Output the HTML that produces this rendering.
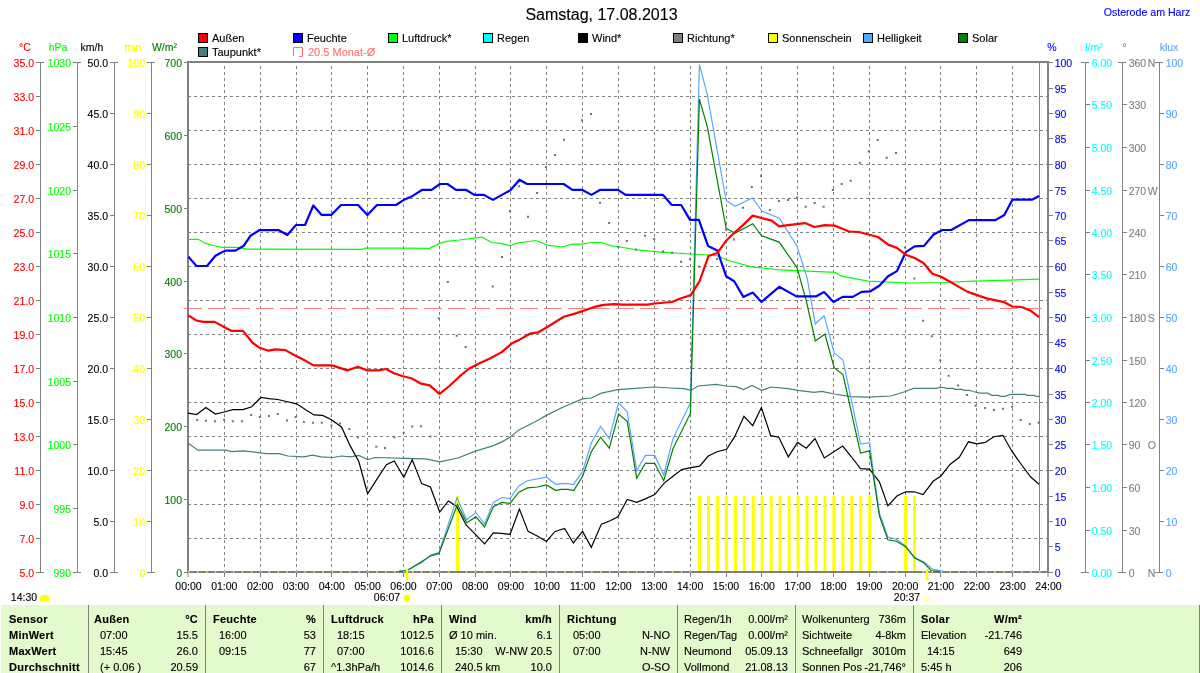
<!DOCTYPE html>
<html><head><meta charset="utf-8"><style>
html,body{margin:0;padding:0;background:#fff;}
svg,#tbl{will-change:transform;}
div{-webkit-text-stroke:0.12px #000;}
body{width:1200px;height:673px;position:relative;overflow:hidden;font-family:"Liberation Sans", sans-serif;font-size:11px;line-height:12px;color:#000;}
</style></head><body>
<svg width="1200" height="673" viewBox="0 0 1200 673" style="position:absolute;left:0;top:0" font-family='"Liberation Sans", sans-serif'><rect x="0" y="0" width="1200" height="673" fill="#fff"/><text x="601.5" y="20" fill="#000" stroke="#000" stroke-width="0.12" font-size="16" text-anchor="middle" font-weight="normal" >Samstag, 17.08.2013</text><text x="1147" y="16" fill="#0000FF" stroke="#0000FF" stroke-width="0.12" font-size="10.6" text-anchor="middle" font-weight="normal" >Osterode am Harz</text><rect x="198.5" y="33.5" width="9" height="9" fill="#FF0000" stroke="#000" stroke-width="1"/><text x="212" y="42" fill="#000" stroke="#000" stroke-width="0.12" font-size="11" text-anchor="start" font-weight="normal" >Außen</text><rect x="293.5" y="33.5" width="9" height="9" fill="#0000FF" stroke="#000" stroke-width="1"/><text x="307" y="42" fill="#000" stroke="#000" stroke-width="0.12" font-size="11" text-anchor="start" font-weight="normal" >Feuchte</text><rect x="388.5" y="33.5" width="9" height="9" fill="#00FF00" stroke="#000" stroke-width="1"/><text x="402" y="42" fill="#000" stroke="#000" stroke-width="0.12" font-size="11" text-anchor="start" font-weight="normal" >Luftdruck*</text><rect x="483.5" y="33.5" width="9" height="9" fill="#00FFFF" stroke="#000" stroke-width="1"/><text x="497" y="42" fill="#000" stroke="#000" stroke-width="0.12" font-size="11" text-anchor="start" font-weight="normal" >Regen</text><rect x="578.5" y="33.5" width="9" height="9" fill="#000000" stroke="#000" stroke-width="1"/><text x="592" y="42" fill="#000" stroke="#000" stroke-width="0.12" font-size="11" text-anchor="start" font-weight="normal" >Wind*</text><rect x="673.5" y="33.5" width="9" height="9" fill="#808080" stroke="#000" stroke-width="1"/><text x="687" y="42" fill="#000" stroke="#000" stroke-width="0.12" font-size="11" text-anchor="start" font-weight="normal" >Richtung*</text><rect x="768.5" y="33.5" width="9" height="9" fill="#FFFF00" stroke="#000" stroke-width="1"/><text x="782" y="42" fill="#000" stroke="#000" stroke-width="0.12" font-size="11" text-anchor="start" font-weight="normal" >Sonnenschein</text><rect x="863.5" y="33.5" width="9" height="9" fill="#55A8FF" stroke="#000" stroke-width="1"/><text x="877" y="42" fill="#000" stroke="#000" stroke-width="0.12" font-size="11" text-anchor="start" font-weight="normal" >Helligkeit</text><rect x="958.5" y="33.5" width="9" height="9" fill="#008000" stroke="#000" stroke-width="1"/><text x="972" y="42" fill="#000" stroke="#000" stroke-width="0.12" font-size="11" text-anchor="start" font-weight="normal" >Solar</text><rect x="198.5" y="47.5" width="9" height="9" fill="#408080" stroke="#000" stroke-width="1"/><text x="212" y="56" fill="#000" stroke="#000" stroke-width="0.12" font-size="11" text-anchor="start" font-weight="normal" >Taupunkt*</text><path d="M293.5,56 V47.5 H302.5 V56.5 H299" fill="none" stroke="#FF7070" stroke-width="1"/><text x="308" y="56" fill="#FF7070" stroke="#FF7070" stroke-width="0.12" font-size="11" text-anchor="start" font-weight="normal" >20.5 Monat-Ø</text><path d="M224.5,62 V572 M260.5,62 V572 M296.5,62 V572 M331.5,62 V572 M367.5,62 V572 M403.5,62 V572 M439.5,62 V572 M475.5,62 V572 M510.5,62 V572 M546.5,62 V572 M582.5,62 V572 M618.5,62 V572 M654.5,62 V572 M690.5,62 V572 M726.5,62 V572 M761.5,62 V572 M797.5,62 V572 M833.5,62 V572 M869.5,62 V572 M905.5,62 V572 M940.5,62 V572 M976.5,62 V572 M1012.5,62 V572" stroke="#808080" stroke-width="1" stroke-dasharray="3,3" stroke-dashoffset="2" fill="none"/><path d="M188,96.5 H1048 M188,130.5 H1048 M188,164.5 H1048 M188,198.5 H1048 M188,232.5 H1048 M188,266.5 H1048 M188,300.5 H1048 M188,334.5 H1048 M188,368.5 H1048 M188,402.5 H1048 M188,436.5 H1048 M188,470.5 H1048 M188,504.5 H1048 M188,538.5 H1048" stroke="#808080" stroke-width="1" stroke-dasharray="3,3" fill="none"/><path d="M1039.5,62 V572" stroke="#808080" stroke-width="1"/><path d="M184,308.5 H1042" stroke="#FF8080" stroke-width="1" stroke-dasharray="18,6"/><path d="M457.6,572 V497 M699.5,572 V497 M708.5,572 V497 M717.4,572 V497 M726.4,572 V497 M735.4,572 V497 M744.3,572 V497 M753.3,572 V497 M762.2,572 V497 M771.2,572 V497 M780.1,572 V497 M789.1,572 V497 M798.1,572 V497 M807.0,572 V497 M816.0,572 V497 M824.9,572 V497 M833.9,572 V497 M842.9,572 V497 M851.8,572 V497 M860.8,572 V497 M869.7,572 V497 M905.6,572 V497 M914.5,572 V497" stroke="#FFFF00" stroke-width="3" stroke-linecap="round" fill="none"/><rect x="188" y="62" width="860" height="510" fill="none" stroke="#808080" stroke-width="2"/><polyline points="187.9,443.0 198.0,450.2 225.6,450.2 231.4,451.7 243.0,450.8 254.6,452.2 266.2,453.7 279.2,453.7 287.9,456.0 303.8,456.9 312.5,455.1 321.2,456.9 332.8,457.5 341.5,456.0 350.2,456.9 358.9,455.4 367.6,459.5 374.9,457.5 405.0,458.3 426.1,458.9 439.7,461.8 458.0,458.0 475.4,451.1 492.8,445.9 501.4,442.1 510.1,437.2 518.8,429.9 536.2,421.2 546.4,415.4 563.8,406.7 582.6,398.9 591.3,398.0 601.4,393.1 618.0,389.6 632.0,388.6 654.0,387.0 670.0,388.0 684.0,388.6 691.0,390.4 698.0,386.0 716.0,384.4 726.0,386.0 736.0,386.6 743.6,389.6 752.0,385.4 761.6,390.4 771.0,387.0 788.0,388.6 798.0,390.4 814.0,392.4 822.0,391.4 834.2,394.0 850.6,396.7 868.3,397.2 891.0,396.0 900.0,393.2 905.4,391.5 913.3,388.4 936.3,388.4 940.0,387.3 944.0,387.5 946.0,388.4 953.0,388.4 955.0,389.3 962.0,389.3 964.0,390.3 969.4,390.3 973.0,391.5 979.7,393.2 987.6,393.2 991.7,395.4 998.5,395.4 1000.2,396.3 1005.0,396.3 1010.5,394.4 1025.6,394.4 1026.9,395.4 1034.0,395.4 1035.8,396.3 1039.0,396.3" fill="none" stroke="#408080" stroke-width="1.2"/><polyline points="188.3,239.3 198.4,239.3 205.1,243.2 213.0,245.5 222.2,247.3 238.5,247.3 246.7,249.1 361.5,249.3 365.7,248.2 405.0,248.2 429.7,248.4 439.5,243.4 446.6,241.4 459.3,240.0 472.0,238.3 481.9,237.1 491.8,242.5 500.3,243.4 510.1,245.6 518.6,242.8 535.6,240.5 548.3,245.3 562.4,247.0 572.3,244.2 582.2,244.2 592.0,242.5 601.9,242.5 610.4,245.6 620.0,247.0 635.2,249.7 660.5,252.2 690.8,254.0 716.0,255.5 728.7,260.5 751.4,266.8 779.2,269.9 807.0,271.1 835.0,272.4 841.4,276.2 867.9,281.2 910.8,283.0 941.1,282.5 974.0,281.2 1039.1,279.2" fill="none" stroke="#00FF00" stroke-width="1.2"/><polyline points="187.9,413.1 196.6,414.6 205.9,407.6 215.4,414.0 224.1,412.0 232.8,409.6 243.0,409.6 251.7,406.7 261.0,397.5 269.0,398.6 277.8,399.5 286.4,401.5 296.6,403.8 305.3,409.6 314.0,414.9 322.7,415.4 331.4,419.8 341.5,427.0 350.2,445.9 358.9,461.8 367.6,493.7 376.3,480.1 386.4,464.7 394.3,461.0 403.8,477.2 412.2,459.8 421.7,483.6 430.4,487.0 439.7,512.0 448.4,501.0 456.5,506.2 466.1,525.0 475.4,534.3 484.6,543.8 493.3,532.8 501.4,533.4 510.1,534.3 519.4,509.1 528.1,531.4 537.7,536.3 546.4,541.5 555.1,531.4 564.6,528.5 573.3,543.0 582.6,531.4 591.3,547.3 601.4,524.1 610.1,520.7 617.9,516.9 627.2,499.5 636.7,502.4 645.4,498.9 654.7,494.6 663.7,483.6 673.0,476.3 681.7,469.6 690.9,467.6 699.6,466.2 708.3,456.0 717.0,451.7 726.6,449.3 734.4,437.2 744.0,416.3 752.7,425.6 761.4,407.6 770.7,435.7 778.8,437.2 788.3,456.9 797.6,442.4 806.3,448.2 815.0,438.6 824.3,458.0 834.2,451.6 842.7,446.0 851.2,456.5 860.5,468.6 869.5,469.2 879.4,481.9 887.9,505.9 896.9,496.0 905.7,491.8 914.2,491.8 923.2,494.6 933.1,481.3 940.7,476.2 950.0,464.4 959.3,457.3 968.4,441.8 976.9,443.8 985.3,442.4 993.8,436.7 1002.8,435.3 1012.2,451.7 1020.6,463.5 1030.5,476.8 1039.0,484.2" fill="none" stroke="#000" stroke-width="1.2"/><polyline points="398.9,571.4 406.9,570.0 421.2,562.9 431.0,554.8 439.0,552.7 457.0,497.8 466.7,519.8 475.9,512.5 484.6,524.1 493.3,502.4 502.0,497.5 510.1,498.6 518.8,485.9 527.5,480.7 546.4,477.2 556.0,484.5 561.0,483.6 568.0,483.6 573.3,484.5 582.6,471.4 591.3,443.0 600.6,426.4 609.3,438.6 618.5,403.0 627.2,411.7 636.7,470.5 645.4,455.4 654.7,455.4 663.7,474.9 673.0,438.6 690.4,403.0 699.4,64.4 707.4,95.1 726.1,200.5 735.0,206.2 752.5,198.0 761.9,211.0 779.4,218.2 796.9,245.9 807.0,277.5 815.3,324.0 824.1,315.7 834.2,353.0 843.0,360.1 860.6,444.0 869.6,442.6 872.4,465.0 879.4,513.0 887.9,537.0 896.4,539.2 904.8,545.4 914.7,557.6 923.2,561.5 933.1,569.4 943.0,571.1" fill="none" stroke="#55A8FF" stroke-width="1.2"/><polyline points="398.9,571.4 406.9,570.9 430.0,556.3 439.0,553.4 457.4,504.4 466.7,522.7 475.9,516.9 484.6,527.0 493.3,506.7 502.0,502.4 510.1,503.3 518.8,492.2 527.5,487.9 537.7,487.0 546.4,485.0 556.0,490.5 561.0,489.3 568.0,489.3 573.7,490.5 582.6,476.3 591.3,451.7 600.6,437.2 609.3,448.2 618.5,414.0 627.2,421.2 636.7,478.3 645.4,463.3 654.7,463.3 663.7,480.7 673.0,448.8 690.4,413.4 699.4,99.1 707.4,127.2 726.1,228.2 735.0,233.3 752.7,223.7 761.5,235.8 779.2,242.1 796.9,267.4 806.1,300.0 815.3,340.9 824.9,334.1 834.2,367.7 843.0,374.5 860.5,453.1 869.5,450.8 879.4,515.8 887.9,539.8 896.4,541.2 905.7,546.8 914.7,558.1 923.2,562.4 931.7,570.9 940.0,571.5" fill="none" stroke="#008000" stroke-width="1.2"/><polyline points="188.3,256.6 196.5,266.0 207.0,266.0 215.4,255.8 223.6,251.4 225.5,250.6 235.5,250.6 243.7,245.8 250.4,235.8 254.1,233.5 259.3,230.2 278.5,230.0 287.3,235.0 296.0,225.0 305.0,225.0 313.3,205.5 321.4,214.8 331.5,214.8 341.0,205.0 358.0,205.0 367.4,215.0 377.0,205.0 396.0,205.0 404.2,199.7 411.5,196.6 422.2,189.8 431.6,189.8 440.0,184.0 447.5,184.0 456.0,189.8 465.7,189.8 474.5,194.9 483.9,194.9 493.0,199.9 501.0,195.4 510.4,190.3 519.5,179.7 527.0,184.0 563.7,184.0 572.3,189.8 581.9,189.8 591.5,194.9 600.3,189.8 618.0,189.8 625.6,194.9 663.0,194.9 671.8,205.0 681.2,205.0 690.0,219.9 698.9,219.9 708.0,245.9 717.3,250.4 726.1,276.2 734.2,281.2 743.3,296.9 752.7,292.6 761.5,302.0 779.2,286.8 796.4,296.4 815.8,296.4 824.1,292.1 833.5,302.0 842.6,296.9 852.7,296.9 861.6,291.9 870.4,291.3 879.3,285.8 888.1,276.2 896.9,271.1 905.8,252.2 914.6,246.4 924.0,245.9 933.6,234.5 942.4,230.0 951.2,230.0 968.9,220.1 995.4,220.1 1004.3,215.0 1012.4,199.7 1032.0,199.7 1039.1,196.1" fill="none" stroke="#0000FF" stroke-width="2.2" stroke-linejoin="round"/><polyline points="188.4,315.4 196.3,320.5 203.4,321.9 214.7,321.9 224.5,327.2 231.6,330.9 242.9,330.9 252.8,343.0 259.8,347.8 268.3,350.7 275.4,349.3 285.3,350.1 295.1,355.5 303.6,359.7 313.5,365.4 331.9,365.4 347.4,370.4 357.8,366.8 367.2,370.4 378.4,370.4 386.1,369.0 394.0,373.3 403.0,376.2 411.3,378.3 421.2,383.7 429.7,385.4 439.5,393.9 449.4,386.0 459.3,376.7 469.2,368.5 479.1,363.4 490.4,358.3 501.7,352.1 511.6,343.6 520.0,339.4 529.9,333.7 538.4,332.3 546.9,327.2 563.8,316.8 576.5,313.1 586.4,309.7 594.9,306.9 603.3,304.9 615.0,304.1 622.6,304.7 647.8,304.7 654.2,303.5 671.8,302.0 681.2,298.2 690.8,295.1 699.6,281.2 708.5,256.0 717.3,253.0 726.1,240.8 733.7,233.3 743.8,224.4 752.7,215.6 761.5,218.0 771.6,220.6 779.2,226.4 788.0,225.2 805.0,223.1 814.5,227.0 824.7,225.2 835.0,225.7 849.0,231.5 859.0,232.0 878.0,237.0 888.1,244.6 896.9,247.9 905.8,254.7 914.6,258.0 923.5,263.0 932.3,273.7 941.1,276.7 950.0,281.7 967.7,291.9 986.6,298.4 1004.3,302.2 1012.4,306.5 1021.5,307.0 1030.8,310.8 1039.1,317.1" fill="none" stroke="#FF0000" stroke-width="2.2" stroke-linejoin="round"/><path d="M196.2,419.1h2v2h-2zM204.9,419.7h2v2h-2zM213.9,420.2h2v2h-2zM223.1,418.8h2v2h-2zM231.8,420.2h2v2h-2zM241.1,420.2h2v2h-2zM250.1,413.9h2v2h-2zM258.8,415.9h2v2h-2zM268.0,415.0h2v2h-2zM276.8,413.0h2v2h-2zM286.0,419.4h2v2h-2zM294.7,415.9h2v2h-2zM302.8,421.1h2v2h-2zM312.1,421.7h2v2h-2zM320.8,421.7h2v2h-2zM330.4,424.6h2v2h-2zM339.1,422.6h2v2h-2zM348.3,428.1h2v2h-2zM357.0,436.2h2v2h-2zM375.3,445.7h2v2h-2zM384.0,446.9h2v2h-2zM393.3,436.2h2v2h-2zM402.8,431.8h2v2h-2zM411.2,425.4h2v2h-2zM419.9,425.2h2v2h-2zM429.4,435.6h2v2h-2zM437.9,317.3h2v2h-2zM446.8,281.0h2v2h-2zM455.7,334.8h2v2h-2zM464.7,345.9h2v2h-2zM491.8,285.6h2v2h-2zM501.0,255.9h2v2h-2zM509.0,210.0h2v2h-2zM518.2,185.2h2v2h-2zM527.0,215.8h2v2h-2zM536.1,192.0h2v2h-2zM544.9,166.0h2v2h-2zM554.1,154.0h2v2h-2zM563.0,138.8h2v2h-2zM580.9,119.3h2v2h-2zM590.0,113.0h2v2h-2zM599.0,201.8h2v2h-2zM608.1,222.0h2v2h-2zM617.3,245.9h2v2h-2zM625.8,239.9h2v2h-2zM635.0,248.5h2v2h-2zM644.0,234.8h2v2h-2zM653.2,238.1h2v2h-2zM662.0,250.6h2v2h-2zM671.1,251.8h2v2h-2zM680.0,260.8h2v2h-2zM689.1,257.9h2v2h-2zM698.2,265.7h2v2h-2zM716.1,257.9h2v2h-2zM724.9,228.6h2v2h-2zM733.1,238.4h2v2h-2zM741.9,206.8h2v2h-2zM750.8,186.0h2v2h-2zM760.0,175.0h2v2h-2zM768.9,208.9h2v2h-2zM777.9,199.9h2v2h-2zM787.0,198.9h2v2h-2zM796.0,196.4h2v2h-2zM804.7,205.7h2v2h-2zM813.7,202.0h2v2h-2zM822.6,205.7h2v2h-2zM831.8,188.9h2v2h-2zM840.7,182.9h2v2h-2zM849.7,179.7h2v2h-2zM858.8,161.8h2v2h-2zM867.8,150.6h2v2h-2zM876.7,139.0h2v2h-2zM885.7,156.8h2v2h-2zM895.0,151.9h2v2h-2zM904.0,246.6h2v2h-2zM913.4,277.6h2v2h-2zM922.1,319.7h2v2h-2zM930.8,335.2h2v2h-2zM939.3,359.2h2v2h-2zM947.7,374.8h2v2h-2zM957.1,384.6h2v2h-2zM966.1,394.0h2v2h-2zM974.6,404.7h2v2h-2zM984.1,407.0h2v2h-2zM992.9,408.9h2v2h-2zM1001.9,407.8h2v2h-2zM1011.1,405.8h2v2h-2zM1019.8,419.0h2v2h-2zM1028.8,423.0h2v2h-2zM1037.7,421.8h2v2h-2z" fill="#707070"/><path d="M188.0,571h1.5v1.5h-1.5zM197.0,571h1.5v1.5h-1.5zM205.9,571h1.5v1.5h-1.5zM214.9,571h1.5v1.5h-1.5zM223.8,571h1.5v1.5h-1.5zM232.8,571h1.5v1.5h-1.5zM241.7,571h1.5v1.5h-1.5zM250.7,571h1.5v1.5h-1.5zM259.7,571h1.5v1.5h-1.5zM268.6,571h1.5v1.5h-1.5zM277.6,571h1.5v1.5h-1.5zM286.5,571h1.5v1.5h-1.5zM295.5,571h1.5v1.5h-1.5zM304.5,571h1.5v1.5h-1.5zM313.4,571h1.5v1.5h-1.5zM322.4,571h1.5v1.5h-1.5zM331.3,571h1.5v1.5h-1.5zM340.3,571h1.5v1.5h-1.5zM349.2,571h1.5v1.5h-1.5zM358.2,571h1.5v1.5h-1.5zM367.2,571h1.5v1.5h-1.5zM376.1,571h1.5v1.5h-1.5zM385.1,571h1.5v1.5h-1.5zM394.0,571h1.5v1.5h-1.5zM403.0,571h1.5v1.5h-1.5zM412.0,571h1.5v1.5h-1.5zM420.9,571h1.5v1.5h-1.5zM429.9,571h1.5v1.5h-1.5zM438.8,571h1.5v1.5h-1.5zM447.8,571h1.5v1.5h-1.5zM465.7,571h1.5v1.5h-1.5zM474.7,571h1.5v1.5h-1.5zM483.6,571h1.5v1.5h-1.5zM492.6,571h1.5v1.5h-1.5zM501.5,571h1.5v1.5h-1.5zM510.5,571h1.5v1.5h-1.5zM519.5,571h1.5v1.5h-1.5zM528.4,571h1.5v1.5h-1.5zM537.4,571h1.5v1.5h-1.5zM546.3,571h1.5v1.5h-1.5zM555.3,571h1.5v1.5h-1.5zM564.2,571h1.5v1.5h-1.5zM573.2,571h1.5v1.5h-1.5zM582.2,571h1.5v1.5h-1.5zM591.1,571h1.5v1.5h-1.5zM600.1,571h1.5v1.5h-1.5zM609.0,571h1.5v1.5h-1.5zM618.0,571h1.5v1.5h-1.5zM627.0,571h1.5v1.5h-1.5zM635.9,571h1.5v1.5h-1.5zM644.9,571h1.5v1.5h-1.5zM653.8,571h1.5v1.5h-1.5zM662.8,571h1.5v1.5h-1.5zM671.7,571h1.5v1.5h-1.5zM680.7,571h1.5v1.5h-1.5zM689.7,571h1.5v1.5h-1.5zM877.8,571h1.5v1.5h-1.5zM886.7,571h1.5v1.5h-1.5zM895.7,571h1.5v1.5h-1.5zM922.6,571h1.5v1.5h-1.5zM931.5,571h1.5v1.5h-1.5zM940.5,571h1.5v1.5h-1.5zM949.5,571h1.5v1.5h-1.5zM958.4,571h1.5v1.5h-1.5zM967.4,571h1.5v1.5h-1.5zM976.3,571h1.5v1.5h-1.5zM985.3,571h1.5v1.5h-1.5zM994.2,571h1.5v1.5h-1.5zM1003.2,571h1.5v1.5h-1.5zM1012.2,571h1.5v1.5h-1.5zM1021.1,571h1.5v1.5h-1.5zM1030.1,571h1.5v1.5h-1.5zM1039.0,571h1.5v1.5h-1.5z" fill="#FFFF00"/><path d="M188,572 V577 M224.5,572 V577 M260.5,572 V577 M296.5,572 V577 M331.5,572 V577 M367.5,572 V577 M403.5,572 V577 M439.5,572 V577 M475.5,572 V577 M510.5,572 V577 M546.5,572 V577 M582.5,572 V577 M618.5,572 V577 M654.5,572 V577 M690.5,572 V577 M726.5,572 V577 M761.5,572 V577 M797.5,572 V577 M833.5,572 V577 M869.5,572 V577 M905.5,572 V577 M940.5,572 V577 M976.5,572 V577 M1012.5,572 V577 M1048,572 V577" stroke="#808080" stroke-width="1"/><text x="188.5" y="590" fill="#000" stroke="#000" stroke-width="0.12" font-size="10.5" text-anchor="middle" font-weight="normal" >00:00</text><text x="224.33333333333334" y="590" fill="#000" stroke="#000" stroke-width="0.12" font-size="10.5" text-anchor="middle" font-weight="normal" >01:00</text><text x="260.1666666666667" y="590" fill="#000" stroke="#000" stroke-width="0.12" font-size="10.5" text-anchor="middle" font-weight="normal" >02:00</text><text x="296.0" y="590" fill="#000" stroke="#000" stroke-width="0.12" font-size="10.5" text-anchor="middle" font-weight="normal" >03:00</text><text x="331.83333333333337" y="590" fill="#000" stroke="#000" stroke-width="0.12" font-size="10.5" text-anchor="middle" font-weight="normal" >04:00</text><text x="367.66666666666663" y="590" fill="#000" stroke="#000" stroke-width="0.12" font-size="10.5" text-anchor="middle" font-weight="normal" >05:00</text><text x="403.5" y="590" fill="#000" stroke="#000" stroke-width="0.12" font-size="10.5" text-anchor="middle" font-weight="normal" >06:00</text><text x="439.33333333333337" y="590" fill="#000" stroke="#000" stroke-width="0.12" font-size="10.5" text-anchor="middle" font-weight="normal" >07:00</text><text x="475.1666666666667" y="590" fill="#000" stroke="#000" stroke-width="0.12" font-size="10.5" text-anchor="middle" font-weight="normal" >08:00</text><text x="511.0" y="590" fill="#000" stroke="#000" stroke-width="0.12" font-size="10.5" text-anchor="middle" font-weight="normal" >09:00</text><text x="546.8333333333333" y="590" fill="#000" stroke="#000" stroke-width="0.12" font-size="10.5" text-anchor="middle" font-weight="normal" >10:00</text><text x="582.6666666666667" y="590" fill="#000" stroke="#000" stroke-width="0.12" font-size="10.5" text-anchor="middle" font-weight="normal" >11:00</text><text x="618.5" y="590" fill="#000" stroke="#000" stroke-width="0.12" font-size="10.5" text-anchor="middle" font-weight="normal" >12:00</text><text x="654.3333333333333" y="590" fill="#000" stroke="#000" stroke-width="0.12" font-size="10.5" text-anchor="middle" font-weight="normal" >13:00</text><text x="690.1666666666667" y="590" fill="#000" stroke="#000" stroke-width="0.12" font-size="10.5" text-anchor="middle" font-weight="normal" >14:00</text><text x="726.0" y="590" fill="#000" stroke="#000" stroke-width="0.12" font-size="10.5" text-anchor="middle" font-weight="normal" >15:00</text><text x="761.8333333333334" y="590" fill="#000" stroke="#000" stroke-width="0.12" font-size="10.5" text-anchor="middle" font-weight="normal" >16:00</text><text x="797.6666666666666" y="590" fill="#000" stroke="#000" stroke-width="0.12" font-size="10.5" text-anchor="middle" font-weight="normal" >17:00</text><text x="833.5" y="590" fill="#000" stroke="#000" stroke-width="0.12" font-size="10.5" text-anchor="middle" font-weight="normal" >18:00</text><text x="869.3333333333334" y="590" fill="#000" stroke="#000" stroke-width="0.12" font-size="10.5" text-anchor="middle" font-weight="normal" >19:00</text><text x="905.1666666666666" y="590" fill="#000" stroke="#000" stroke-width="0.12" font-size="10.5" text-anchor="middle" font-weight="normal" >20:00</text><text x="941.0" y="590" fill="#000" stroke="#000" stroke-width="0.12" font-size="10.5" text-anchor="middle" font-weight="normal" >21:00</text><text x="976.8333333333334" y="590" fill="#000" stroke="#000" stroke-width="0.12" font-size="10.5" text-anchor="middle" font-weight="normal" >22:00</text><text x="1012.6666666666666" y="590" fill="#000" stroke="#000" stroke-width="0.12" font-size="10.5" text-anchor="middle" font-weight="normal" >23:00</text><text x="1048.5" y="590" fill="#000" stroke="#000" stroke-width="0.12" font-size="10.5" text-anchor="middle" font-weight="normal" >24:00</text><path d="M407,569 V580.5 M927,569 V580.5" stroke="#FFFF00" stroke-width="2.5"/><text x="387" y="601" fill="#000" stroke="#000" stroke-width="0.12" font-size="10.5" text-anchor="middle" font-weight="normal" >06:07</text><circle cx="407" cy="598" r="3.2" fill="#FFFF00"/><path d="M407,592.5 V594 M407,602 V603.5 M401.5,598 H403 M411,598 H412.5 M403,594 l1,1 M411,594 l-1,1 M403,602 l1,-1 M411,602 l-1,-1" stroke="#FFFF60" stroke-width="1"/><text x="907" y="601" fill="#000" stroke="#000" stroke-width="0.12" font-size="10.5" text-anchor="middle" font-weight="normal" >20:37</text><rect x="924.5" y="595.5" width="5" height="5" rx="1" fill="none" stroke="#FFFF60" stroke-width="1"/><text x="24" y="601" fill="#000" stroke="#000" stroke-width="0.12" font-size="10.5" text-anchor="middle" font-weight="normal" >14:30</text><path d="M40,601 V598 Q40,595 43,595 H46 Q49,595 49,598 V601 Z" fill="#FFFF00"/><text x="34" y="66.5" fill="#FF0000" stroke="#FF0000" stroke-width="0.12" font-size="10.5" text-anchor="end" font-weight="normal" >35.0</text><text x="34" y="100.5" fill="#FF0000" stroke="#FF0000" stroke-width="0.12" font-size="10.5" text-anchor="end" font-weight="normal" >33.0</text><text x="34" y="134.5" fill="#FF0000" stroke="#FF0000" stroke-width="0.12" font-size="10.5" text-anchor="end" font-weight="normal" >31.0</text><text x="34" y="168.5" fill="#FF0000" stroke="#FF0000" stroke-width="0.12" font-size="10.5" text-anchor="end" font-weight="normal" >29.0</text><text x="34" y="202.5" fill="#FF0000" stroke="#FF0000" stroke-width="0.12" font-size="10.5" text-anchor="end" font-weight="normal" >27.0</text><text x="34" y="236.5" fill="#FF0000" stroke="#FF0000" stroke-width="0.12" font-size="10.5" text-anchor="end" font-weight="normal" >25.0</text><text x="34" y="270.5" fill="#FF0000" stroke="#FF0000" stroke-width="0.12" font-size="10.5" text-anchor="end" font-weight="normal" >23.0</text><text x="34" y="304.5" fill="#FF0000" stroke="#FF0000" stroke-width="0.12" font-size="10.5" text-anchor="end" font-weight="normal" >21.0</text><text x="34" y="338.5" fill="#FF0000" stroke="#FF0000" stroke-width="0.12" font-size="10.5" text-anchor="end" font-weight="normal" >19.0</text><text x="34" y="372.5" fill="#FF0000" stroke="#FF0000" stroke-width="0.12" font-size="10.5" text-anchor="end" font-weight="normal" >17.0</text><text x="34" y="406.5" fill="#FF0000" stroke="#FF0000" stroke-width="0.12" font-size="10.5" text-anchor="end" font-weight="normal" >15.0</text><text x="34" y="440.5" fill="#FF0000" stroke="#FF0000" stroke-width="0.12" font-size="10.5" text-anchor="end" font-weight="normal" >13.0</text><text x="34" y="474.5" fill="#FF0000" stroke="#FF0000" stroke-width="0.12" font-size="10.5" text-anchor="end" font-weight="normal" >11.0</text><text x="34" y="508.5" fill="#FF0000" stroke="#FF0000" stroke-width="0.12" font-size="10.5" text-anchor="end" font-weight="normal" >9.0</text><text x="34" y="542.5" fill="#FF0000" stroke="#FF0000" stroke-width="0.12" font-size="10.5" text-anchor="end" font-weight="normal" >7.0</text><text x="34" y="576.5" fill="#FF0000" stroke="#FF0000" stroke-width="0.12" font-size="10.5" text-anchor="end" font-weight="normal" >5.0</text><text x="25" y="51" fill="#FF0000" stroke="#FF0000" stroke-width="0.12" font-size="10.5" text-anchor="middle" font-weight="normal" >°C</text><text x="71" y="66.5" fill="#00FF00" stroke="#00FF00" stroke-width="0.12" font-size="10.5" text-anchor="end" font-weight="normal" >1030</text><text x="71" y="130.5" fill="#00FF00" stroke="#00FF00" stroke-width="0.12" font-size="10.5" text-anchor="end" font-weight="normal" >1025</text><text x="71" y="194.5" fill="#00FF00" stroke="#00FF00" stroke-width="0.12" font-size="10.5" text-anchor="end" font-weight="normal" >1020</text><text x="71" y="257.5" fill="#00FF00" stroke="#00FF00" stroke-width="0.12" font-size="10.5" text-anchor="end" font-weight="normal" >1015</text><text x="71" y="321.5" fill="#00FF00" stroke="#00FF00" stroke-width="0.12" font-size="10.5" text-anchor="end" font-weight="normal" >1010</text><text x="71" y="385.5" fill="#00FF00" stroke="#00FF00" stroke-width="0.12" font-size="10.5" text-anchor="end" font-weight="normal" >1005</text><text x="71" y="448.5" fill="#00FF00" stroke="#00FF00" stroke-width="0.12" font-size="10.5" text-anchor="end" font-weight="normal" >1000</text><text x="71" y="512.5" fill="#00FF00" stroke="#00FF00" stroke-width="0.12" font-size="10.5" text-anchor="end" font-weight="normal" >995</text><text x="71" y="576.5" fill="#00FF00" stroke="#00FF00" stroke-width="0.12" font-size="10.5" text-anchor="end" font-weight="normal" >990</text><text x="58" y="51" fill="#00FF00" stroke="#00FF00" stroke-width="0.12" font-size="10.5" text-anchor="middle" font-weight="normal" >hPa</text><text x="108" y="66.5" fill="#000000" stroke="#000000" stroke-width="0.12" font-size="10.5" text-anchor="end" font-weight="normal" >50.0</text><text x="108" y="117.5" fill="#000000" stroke="#000000" stroke-width="0.12" font-size="10.5" text-anchor="end" font-weight="normal" >45.0</text><text x="108" y="168.5" fill="#000000" stroke="#000000" stroke-width="0.12" font-size="10.5" text-anchor="end" font-weight="normal" >40.0</text><text x="108" y="219.5" fill="#000000" stroke="#000000" stroke-width="0.12" font-size="10.5" text-anchor="end" font-weight="normal" >35.0</text><text x="108" y="270.5" fill="#000000" stroke="#000000" stroke-width="0.12" font-size="10.5" text-anchor="end" font-weight="normal" >30.0</text><text x="108" y="321.5" fill="#000000" stroke="#000000" stroke-width="0.12" font-size="10.5" text-anchor="end" font-weight="normal" >25.0</text><text x="108" y="372.5" fill="#000000" stroke="#000000" stroke-width="0.12" font-size="10.5" text-anchor="end" font-weight="normal" >20.0</text><text x="108" y="423.5" fill="#000000" stroke="#000000" stroke-width="0.12" font-size="10.5" text-anchor="end" font-weight="normal" >15.0</text><text x="108" y="474.5" fill="#000000" stroke="#000000" stroke-width="0.12" font-size="10.5" text-anchor="end" font-weight="normal" >10.0</text><text x="108" y="525.5" fill="#000000" stroke="#000000" stroke-width="0.12" font-size="10.5" text-anchor="end" font-weight="normal" >5.0</text><text x="108" y="576.5" fill="#000000" stroke="#000000" stroke-width="0.12" font-size="10.5" text-anchor="end" font-weight="normal" >0.0</text><text x="92" y="51" fill="#000000" stroke="#000000" stroke-width="0.12" font-size="10.5" text-anchor="middle" font-weight="normal" >km/h</text><text x="145" y="66.5" fill="#FFFF00" stroke="#FFFF00" stroke-width="0.12" font-size="10.5" text-anchor="end" font-weight="normal" >100</text><text x="145" y="117.5" fill="#FFFF00" stroke="#FFFF00" stroke-width="0.12" font-size="10.5" text-anchor="end" font-weight="normal" >90</text><text x="145" y="168.5" fill="#FFFF00" stroke="#FFFF00" stroke-width="0.12" font-size="10.5" text-anchor="end" font-weight="normal" >80</text><text x="145" y="219.5" fill="#FFFF00" stroke="#FFFF00" stroke-width="0.12" font-size="10.5" text-anchor="end" font-weight="normal" >70</text><text x="145" y="270.5" fill="#FFFF00" stroke="#FFFF00" stroke-width="0.12" font-size="10.5" text-anchor="end" font-weight="normal" >60</text><text x="145" y="321.5" fill="#FFFF00" stroke="#FFFF00" stroke-width="0.12" font-size="10.5" text-anchor="end" font-weight="normal" >50</text><text x="145" y="372.5" fill="#FFFF00" stroke="#FFFF00" stroke-width="0.12" font-size="10.5" text-anchor="end" font-weight="normal" >40</text><text x="145" y="423.5" fill="#FFFF00" stroke="#FFFF00" stroke-width="0.12" font-size="10.5" text-anchor="end" font-weight="normal" >30</text><text x="145" y="474.5" fill="#FFFF00" stroke="#FFFF00" stroke-width="0.12" font-size="10.5" text-anchor="end" font-weight="normal" >20</text><text x="145" y="525.5" fill="#FFFF00" stroke="#FFFF00" stroke-width="0.12" font-size="10.5" text-anchor="end" font-weight="normal" >10</text><text x="145" y="576.5" fill="#FFFF00" stroke="#FFFF00" stroke-width="0.12" font-size="10.5" text-anchor="end" font-weight="normal" >0</text><text x="133" y="51" fill="#FFFF00" stroke="#FFFF00" stroke-width="0.12" font-size="10.5" text-anchor="middle" font-weight="normal" >min</text><text x="182" y="66.5" fill="#008000" stroke="#008000" stroke-width="0.12" font-size="10.5" text-anchor="end" font-weight="normal" >700</text><text x="182" y="139.5" fill="#008000" stroke="#008000" stroke-width="0.12" font-size="10.5" text-anchor="end" font-weight="normal" >600</text><text x="182" y="212.5" fill="#008000" stroke="#008000" stroke-width="0.12" font-size="10.5" text-anchor="end" font-weight="normal" >500</text><text x="182" y="285.5" fill="#008000" stroke="#008000" stroke-width="0.12" font-size="10.5" text-anchor="end" font-weight="normal" >400</text><text x="182" y="357.5" fill="#008000" stroke="#008000" stroke-width="0.12" font-size="10.5" text-anchor="end" font-weight="normal" >300</text><text x="182" y="430.5" fill="#008000" stroke="#008000" stroke-width="0.12" font-size="10.5" text-anchor="end" font-weight="normal" >200</text><text x="182" y="503.5" fill="#008000" stroke="#008000" stroke-width="0.12" font-size="10.5" text-anchor="end" font-weight="normal" >100</text><text x="182" y="576.5" fill="#008000" stroke="#008000" stroke-width="0.12" font-size="10.5" text-anchor="end" font-weight="normal" >0</text><text x="164.5" y="51" fill="#008000" stroke="#008000" stroke-width="0.12" font-size="10.5" text-anchor="middle" font-weight="normal" >W/m²</text><text x="1054.7" y="66.5" fill="#0000FF" stroke="#0000FF" stroke-width="0.12" font-size="10.5" text-anchor="start" font-weight="normal" >100</text><text x="1054.7" y="92.5" fill="#0000FF" stroke="#0000FF" stroke-width="0.12" font-size="10.5" text-anchor="start" font-weight="normal" >95</text><text x="1054.7" y="117.5" fill="#0000FF" stroke="#0000FF" stroke-width="0.12" font-size="10.5" text-anchor="start" font-weight="normal" >90</text><text x="1054.7" y="142.5" fill="#0000FF" stroke="#0000FF" stroke-width="0.12" font-size="10.5" text-anchor="start" font-weight="normal" >85</text><text x="1054.7" y="168.5" fill="#0000FF" stroke="#0000FF" stroke-width="0.12" font-size="10.5" text-anchor="start" font-weight="normal" >80</text><text x="1054.7" y="194.5" fill="#0000FF" stroke="#0000FF" stroke-width="0.12" font-size="10.5" text-anchor="start" font-weight="normal" >75</text><text x="1054.7" y="219.5" fill="#0000FF" stroke="#0000FF" stroke-width="0.12" font-size="10.5" text-anchor="start" font-weight="normal" >70</text><text x="1054.7" y="244.5" fill="#0000FF" stroke="#0000FF" stroke-width="0.12" font-size="10.5" text-anchor="start" font-weight="normal" >65</text><text x="1054.7" y="270.5" fill="#0000FF" stroke="#0000FF" stroke-width="0.12" font-size="10.5" text-anchor="start" font-weight="normal" >60</text><text x="1054.7" y="296.5" fill="#0000FF" stroke="#0000FF" stroke-width="0.12" font-size="10.5" text-anchor="start" font-weight="normal" >55</text><text x="1054.7" y="321.5" fill="#0000FF" stroke="#0000FF" stroke-width="0.12" font-size="10.5" text-anchor="start" font-weight="normal" >50</text><text x="1054.7" y="346.5" fill="#0000FF" stroke="#0000FF" stroke-width="0.12" font-size="10.5" text-anchor="start" font-weight="normal" >45</text><text x="1054.7" y="372.5" fill="#0000FF" stroke="#0000FF" stroke-width="0.12" font-size="10.5" text-anchor="start" font-weight="normal" >40</text><text x="1054.7" y="398.5" fill="#0000FF" stroke="#0000FF" stroke-width="0.12" font-size="10.5" text-anchor="start" font-weight="normal" >35</text><text x="1054.7" y="423.5" fill="#0000FF" stroke="#0000FF" stroke-width="0.12" font-size="10.5" text-anchor="start" font-weight="normal" >30</text><text x="1054.7" y="448.5" fill="#0000FF" stroke="#0000FF" stroke-width="0.12" font-size="10.5" text-anchor="start" font-weight="normal" >25</text><text x="1054.7" y="474.5" fill="#0000FF" stroke="#0000FF" stroke-width="0.12" font-size="10.5" text-anchor="start" font-weight="normal" >20</text><text x="1054.7" y="500.5" fill="#0000FF" stroke="#0000FF" stroke-width="0.12" font-size="10.5" text-anchor="start" font-weight="normal" >15</text><text x="1054.7" y="525.5" fill="#0000FF" stroke="#0000FF" stroke-width="0.12" font-size="10.5" text-anchor="start" font-weight="normal" >10</text><text x="1054.7" y="550.5" fill="#0000FF" stroke="#0000FF" stroke-width="0.12" font-size="10.5" text-anchor="start" font-weight="normal" >5</text><text x="1054.7" y="576.5" fill="#0000FF" stroke="#0000FF" stroke-width="0.12" font-size="10.5" text-anchor="start" font-weight="normal" >0</text><text x="1052" y="51" fill="#0000FF" stroke="#0000FF" stroke-width="0.12" font-size="10.5" text-anchor="middle" font-weight="normal" >%</text><text x="1091.7" y="66.5" fill="#00FFFF" stroke="#00FFFF" stroke-width="0.12" font-size="10.5" text-anchor="start" font-weight="normal" >6.00</text><text x="1091.7" y="108.5" fill="#00FFFF" stroke="#00FFFF" stroke-width="0.12" font-size="10.5" text-anchor="start" font-weight="normal" >5.50</text><text x="1091.7" y="151.5" fill="#00FFFF" stroke="#00FFFF" stroke-width="0.12" font-size="10.5" text-anchor="start" font-weight="normal" >5.00</text><text x="1091.7" y="194.5" fill="#00FFFF" stroke="#00FFFF" stroke-width="0.12" font-size="10.5" text-anchor="start" font-weight="normal" >4.50</text><text x="1091.7" y="236.5" fill="#00FFFF" stroke="#00FFFF" stroke-width="0.12" font-size="10.5" text-anchor="start" font-weight="normal" >4.00</text><text x="1091.7" y="278.5" fill="#00FFFF" stroke="#00FFFF" stroke-width="0.12" font-size="10.5" text-anchor="start" font-weight="normal" >3.50</text><text x="1091.7" y="321.5" fill="#00FFFF" stroke="#00FFFF" stroke-width="0.12" font-size="10.5" text-anchor="start" font-weight="normal" >3.00</text><text x="1091.7" y="364.5" fill="#00FFFF" stroke="#00FFFF" stroke-width="0.12" font-size="10.5" text-anchor="start" font-weight="normal" >2.50</text><text x="1091.7" y="406.5" fill="#00FFFF" stroke="#00FFFF" stroke-width="0.12" font-size="10.5" text-anchor="start" font-weight="normal" >2.00</text><text x="1091.7" y="448.5" fill="#00FFFF" stroke="#00FFFF" stroke-width="0.12" font-size="10.5" text-anchor="start" font-weight="normal" >1.50</text><text x="1091.7" y="491.5" fill="#00FFFF" stroke="#00FFFF" stroke-width="0.12" font-size="10.5" text-anchor="start" font-weight="normal" >1.00</text><text x="1091.7" y="534.5" fill="#00FFFF" stroke="#00FFFF" stroke-width="0.12" font-size="10.5" text-anchor="start" font-weight="normal" >0.50</text><text x="1091.7" y="576.5" fill="#00FFFF" stroke="#00FFFF" stroke-width="0.12" font-size="10.5" text-anchor="start" font-weight="normal" >0.00</text><text x="1094" y="51" fill="#00FFFF" stroke="#00FFFF" stroke-width="0.12" font-size="10.5" text-anchor="middle" font-weight="normal" >l/m²</text><text x="1128.7" y="66.5" fill="#808080" stroke="#808080" stroke-width="0.12" font-size="10.5" text-anchor="start" font-weight="normal" >360</text><text x="1147.8" y="66.5" fill="#808080" stroke="#808080" stroke-width="0.12" font-size="10.5" text-anchor="start" font-weight="normal" >N</text><text x="1128.7" y="108.5" fill="#808080" stroke="#808080" stroke-width="0.12" font-size="10.5" text-anchor="start" font-weight="normal" >330</text><text x="1128.7" y="151.5" fill="#808080" stroke="#808080" stroke-width="0.12" font-size="10.5" text-anchor="start" font-weight="normal" >300</text><text x="1128.7" y="194.5" fill="#808080" stroke="#808080" stroke-width="0.12" font-size="10.5" text-anchor="start" font-weight="normal" >270</text><text x="1147.8" y="194.5" fill="#808080" stroke="#808080" stroke-width="0.12" font-size="10.5" text-anchor="start" font-weight="normal" >W</text><text x="1128.7" y="236.5" fill="#808080" stroke="#808080" stroke-width="0.12" font-size="10.5" text-anchor="start" font-weight="normal" >240</text><text x="1128.7" y="278.5" fill="#808080" stroke="#808080" stroke-width="0.12" font-size="10.5" text-anchor="start" font-weight="normal" >210</text><text x="1128.7" y="321.5" fill="#808080" stroke="#808080" stroke-width="0.12" font-size="10.5" text-anchor="start" font-weight="normal" >180</text><text x="1147.8" y="321.5" fill="#808080" stroke="#808080" stroke-width="0.12" font-size="10.5" text-anchor="start" font-weight="normal" >S</text><text x="1128.7" y="364.5" fill="#808080" stroke="#808080" stroke-width="0.12" font-size="10.5" text-anchor="start" font-weight="normal" >150</text><text x="1128.7" y="406.5" fill="#808080" stroke="#808080" stroke-width="0.12" font-size="10.5" text-anchor="start" font-weight="normal" >120</text><text x="1128.7" y="448.5" fill="#808080" stroke="#808080" stroke-width="0.12" font-size="10.5" text-anchor="start" font-weight="normal" >90</text><text x="1147.8" y="448.5" fill="#808080" stroke="#808080" stroke-width="0.12" font-size="10.5" text-anchor="start" font-weight="normal" >O</text><text x="1128.7" y="491.5" fill="#808080" stroke="#808080" stroke-width="0.12" font-size="10.5" text-anchor="start" font-weight="normal" >60</text><text x="1128.7" y="534.5" fill="#808080" stroke="#808080" stroke-width="0.12" font-size="10.5" text-anchor="start" font-weight="normal" >30</text><text x="1128.7" y="576.5" fill="#808080" stroke="#808080" stroke-width="0.12" font-size="10.5" text-anchor="start" font-weight="normal" >0</text><text x="1147.8" y="576.5" fill="#808080" stroke="#808080" stroke-width="0.12" font-size="10.5" text-anchor="start" font-weight="normal" >N</text><text x="1124.5" y="51" fill="#808080" stroke="#808080" stroke-width="0.12" font-size="10.5" text-anchor="middle" font-weight="normal" >°</text><text x="1165.7" y="66.5" fill="#55A8FF" stroke="#55A8FF" stroke-width="0.12" font-size="10.5" text-anchor="start" font-weight="normal" >100</text><text x="1165.7" y="117.5" fill="#55A8FF" stroke="#55A8FF" stroke-width="0.12" font-size="10.5" text-anchor="start" font-weight="normal" >90</text><text x="1165.7" y="168.5" fill="#55A8FF" stroke="#55A8FF" stroke-width="0.12" font-size="10.5" text-anchor="start" font-weight="normal" >80</text><text x="1165.7" y="219.5" fill="#55A8FF" stroke="#55A8FF" stroke-width="0.12" font-size="10.5" text-anchor="start" font-weight="normal" >70</text><text x="1165.7" y="270.5" fill="#55A8FF" stroke="#55A8FF" stroke-width="0.12" font-size="10.5" text-anchor="start" font-weight="normal" >60</text><text x="1165.7" y="321.5" fill="#55A8FF" stroke="#55A8FF" stroke-width="0.12" font-size="10.5" text-anchor="start" font-weight="normal" >50</text><text x="1165.7" y="372.5" fill="#55A8FF" stroke="#55A8FF" stroke-width="0.12" font-size="10.5" text-anchor="start" font-weight="normal" >40</text><text x="1165.7" y="423.5" fill="#55A8FF" stroke="#55A8FF" stroke-width="0.12" font-size="10.5" text-anchor="start" font-weight="normal" >30</text><text x="1165.7" y="474.5" fill="#55A8FF" stroke="#55A8FF" stroke-width="0.12" font-size="10.5" text-anchor="start" font-weight="normal" >20</text><text x="1165.7" y="525.5" fill="#55A8FF" stroke="#55A8FF" stroke-width="0.12" font-size="10.5" text-anchor="start" font-weight="normal" >10</text><text x="1165.7" y="576.5" fill="#55A8FF" stroke="#55A8FF" stroke-width="0.12" font-size="10.5" text-anchor="start" font-weight="normal" >0</text><text x="1169" y="51" fill="#55A8FF" stroke="#55A8FF" stroke-width="0.12" font-size="10.5" text-anchor="middle" font-weight="normal" >klux</text><path d="M40.5,62 V572 M36,62.5 H44 M36,96.5 H40 M36,130.5 H40 M36,164.5 H40 M36,198.5 H40 M36,232.5 H40 M36,266.5 H40 M36,300.5 H40 M36,334.5 H40 M36,368.5 H40 M36,402.5 H40 M36,436.5 H40 M36,470.5 H40 M36,504.5 H40 M36,538.5 H40 M36,572.5 H44 M77.5,62 V572 M73,62.5 H81 M73,126.5 H77 M73,190.5 H77 M73,253.5 H77 M73,317.5 H77 M73,381.5 H77 M73,444.5 H77 M73,508.5 H77 M73,572.5 H81 M114.5,62 V572 M110,62.5 H118 M110,113.5 H114 M110,164.5 H114 M110,215.5 H114 M110,266.5 H114 M110,317.5 H114 M110,368.5 H114 M110,419.5 H114 M110,470.5 H114 M110,521.5 H114 M110,572.5 H118 M151.5,62 V572 M147,62.5 H155 M147,113.5 H151 M147,164.5 H151 M147,215.5 H151 M147,266.5 H151 M147,317.5 H151 M147,368.5 H151 M147,419.5 H151 M147,470.5 H151 M147,521.5 H151 M147,572.5 H155 M184,62.5 H188 M184,135.5 H188 M184,208.5 H188 M184,281.5 H188 M184,353.5 H188 M184,426.5 H188 M184,499.5 H188 M184,572.5 H188 M1048,62.5 H1053 M1048,88.5 H1053 M1048,113.5 H1053 M1048,138.5 H1053 M1048,164.5 H1053 M1048,190.5 H1053 M1048,215.5 H1053 M1048,240.5 H1053 M1048,266.5 H1053 M1048,292.5 H1053 M1048,317.5 H1053 M1048,342.5 H1053 M1048,368.5 H1053 M1048,394.5 H1053 M1048,419.5 H1053 M1048,444.5 H1053 M1048,470.5 H1053 M1048,496.5 H1053 M1048,521.5 H1053 M1048,546.5 H1053 M1048,572.5 H1053 M1085.5,62 V572 M1081,62.5 H1089 M1086,104.5 H1090 M1086,147.5 H1090 M1086,190.5 H1090 M1086,232.5 H1090 M1086,274.5 H1090 M1086,317.5 H1090 M1086,360.5 H1090 M1086,402.5 H1090 M1086,444.5 H1090 M1086,487.5 H1090 M1086,530.5 H1090 M1081,572.5 H1089 M1122.5,62 V572 M1118,62.5 H1126 M1123,104.5 H1127 M1123,147.5 H1127 M1123,190.5 H1127 M1123,232.5 H1127 M1123,274.5 H1127 M1123,317.5 H1127 M1123,360.5 H1127 M1123,402.5 H1127 M1123,444.5 H1127 M1123,487.5 H1127 M1123,530.5 H1127 M1118,572.5 H1126 M1159.5,62 V572 M1155,62.5 H1163 M1160,113.5 H1164 M1160,164.5 H1164 M1160,215.5 H1164 M1160,266.5 H1164 M1160,317.5 H1164 M1160,368.5 H1164 M1160,419.5 H1164 M1160,470.5 H1164 M1160,521.5 H1164 M1155,572.5 H1163" stroke="#808080" stroke-width="1" fill="none"/></svg>
<div id="tbl" style="position:absolute;left:0;top:0;width:1200px;height:673px"><div style="position:absolute;left:1px;top:605px;width:1198px;height:68px;background:#E2FACC"></div><div style="position:absolute;left:88px;top:605px;width:1px;height:68px;background:#808080"></div><div style="position:absolute;left:205px;top:605px;width:1px;height:68px;background:#808080"></div><div style="position:absolute;left:323px;top:605px;width:1px;height:68px;background:#808080"></div><div style="position:absolute;left:441px;top:605px;width:1px;height:68px;background:#808080"></div><div style="position:absolute;left:559px;top:605px;width:1px;height:68px;background:#808080"></div><div style="position:absolute;left:677px;top:605px;width:1px;height:68px;background:#808080"></div><div style="position:absolute;left:795px;top:605px;width:1px;height:68px;background:#808080"></div><div style="position:absolute;left:913px;top:605px;width:1px;height:68px;background:#808080"></div><div style="position:absolute;left:1199px;top:605px;width:1px;height:68px;background:#808080"></div><div style="position:absolute;left:9px;top:613px;font-weight:bold;white-space:nowrap;letter-spacing:0.25px">Sensor</div><div style="position:absolute;left:9px;top:629px;font-weight:bold;white-space:nowrap;letter-spacing:0.25px">MinWert</div><div style="position:absolute;left:9px;top:645px;font-weight:bold;white-space:nowrap;letter-spacing:0.25px">MaxWert</div><div style="position:absolute;left:9px;top:661px;font-weight:bold;white-space:nowrap;letter-spacing:0.25px">Durchschnitt</div><div style="position:absolute;left:94px;top:613px;font-weight:bold;white-space:nowrap;letter-spacing:0.25px">Außen</div><div style="position:absolute;right:1002px;top:613px;font-weight:bold;white-space:nowrap;letter-spacing:0.25px">°C</div><div style="position:absolute;left:100px;top:629px;font-weight:normal;white-space:nowrap">07:00</div><div style="position:absolute;right:1002px;top:629px;font-weight:normal;white-space:nowrap">15.5</div><div style="position:absolute;left:100px;top:645px;font-weight:normal;white-space:nowrap">15:45</div><div style="position:absolute;right:1002px;top:645px;font-weight:normal;white-space:nowrap">26.0</div><div style="position:absolute;left:100px;top:661px;font-weight:normal;white-space:nowrap">(+ 0.06 )</div><div style="position:absolute;right:1002px;top:661px;font-weight:normal;white-space:nowrap">20.59</div><div style="position:absolute;left:213px;top:613px;font-weight:bold;white-space:nowrap;letter-spacing:0.25px">Feuchte</div><div style="position:absolute;right:884px;top:613px;font-weight:bold;white-space:nowrap;letter-spacing:0.25px">%</div><div style="position:absolute;left:219px;top:629px;font-weight:normal;white-space:nowrap">16:00</div><div style="position:absolute;right:884px;top:629px;font-weight:normal;white-space:nowrap">53</div><div style="position:absolute;left:219px;top:645px;font-weight:normal;white-space:nowrap">09:15</div><div style="position:absolute;right:884px;top:645px;font-weight:normal;white-space:nowrap">77</div><div style="position:absolute;left:219px;top:661px;font-weight:normal;white-space:nowrap"></div><div style="position:absolute;right:884px;top:661px;font-weight:normal;white-space:nowrap">67</div><div style="position:absolute;left:331px;top:613px;font-weight:bold;white-space:nowrap;letter-spacing:0.25px">Luftdruck</div><div style="position:absolute;right:766px;top:613px;font-weight:bold;white-space:nowrap;letter-spacing:0.25px">hPa</div><div style="position:absolute;left:337px;top:629px;font-weight:normal;white-space:nowrap">18:15</div><div style="position:absolute;right:766px;top:629px;font-weight:normal;white-space:nowrap">1012.5</div><div style="position:absolute;left:337px;top:645px;font-weight:normal;white-space:nowrap">07:00</div><div style="position:absolute;right:766px;top:645px;font-weight:normal;white-space:nowrap">1016.6</div><div style="position:absolute;left:331px;top:661px;font-weight:normal;white-space:nowrap">^1.3hPa/h</div><div style="position:absolute;right:766px;top:661px;font-weight:normal;white-space:nowrap">1014.6</div><div style="position:absolute;left:449px;top:613px;font-weight:bold;white-space:nowrap;letter-spacing:0.25px">Wind</div><div style="position:absolute;right:648px;top:613px;font-weight:bold;white-space:nowrap;letter-spacing:0.25px">km/h</div><div style="position:absolute;left:449px;top:629px;font-weight:normal;white-space:nowrap">Ø 10 min.</div><div style="position:absolute;right:648px;top:629px;font-weight:normal;white-space:nowrap">6.1</div><div style="position:absolute;left:455px;top:645px;font-weight:normal;white-space:nowrap">15:30</div><div style="position:absolute;right:648px;top:645px;font-weight:normal;white-space:nowrap">W-NW 20.5</div><div style="position:absolute;left:455px;top:661px;font-weight:normal;white-space:nowrap">240.5 km</div><div style="position:absolute;right:648px;top:661px;font-weight:normal;white-space:nowrap">10.0</div><div style="position:absolute;left:567px;top:613px;font-weight:bold;white-space:nowrap;letter-spacing:0.25px">Richtung</div><div style="position:absolute;left:573px;top:629px;font-weight:normal;white-space:nowrap">05:00</div><div style="position:absolute;right:530px;top:629px;font-weight:normal;white-space:nowrap">N-NO</div><div style="position:absolute;left:573px;top:645px;font-weight:normal;white-space:nowrap">07:00</div><div style="position:absolute;right:530px;top:645px;font-weight:normal;white-space:nowrap">N-NW</div><div style="position:absolute;left:573px;top:661px;font-weight:normal;white-space:nowrap"></div><div style="position:absolute;right:530px;top:661px;font-weight:normal;white-space:nowrap">O-SO</div><div style="position:absolute;left:684px;top:613px;font-weight:normal;white-space:nowrap">Regen/1h</div><div style="position:absolute;right:412px;top:613px;font-weight:normal;white-space:nowrap">0.00l/m²</div><div style="position:absolute;left:684px;top:629px;font-weight:normal;white-space:nowrap">Regen/Tag</div><div style="position:absolute;right:412px;top:629px;font-weight:normal;white-space:nowrap">0.00l/m²</div><div style="position:absolute;left:684px;top:645px;font-weight:normal;white-space:nowrap">Neumond</div><div style="position:absolute;right:412px;top:645px;font-weight:normal;white-space:nowrap">05.09.13</div><div style="position:absolute;left:684px;top:661px;font-weight:normal;white-space:nowrap">Vollmond</div><div style="position:absolute;right:412px;top:661px;font-weight:normal;white-space:nowrap">21.08.13</div><div style="position:absolute;left:802px;top:613px;font-weight:normal;white-space:nowrap">Wolkenunterg</div><div style="position:absolute;right:294px;top:613px;font-weight:normal;white-space:nowrap">736m</div><div style="position:absolute;left:802px;top:629px;font-weight:normal;white-space:nowrap">Sichtweite</div><div style="position:absolute;right:294px;top:629px;font-weight:normal;white-space:nowrap">4-8km</div><div style="position:absolute;left:802px;top:645px;font-weight:normal;white-space:nowrap">Schneefallgr</div><div style="position:absolute;right:294px;top:645px;font-weight:normal;white-space:nowrap">3010m</div><div style="position:absolute;left:802px;top:661px;font-weight:normal;white-space:nowrap">Sonnen Pos</div><div style="position:absolute;right:294px;top:661px;font-weight:normal;white-space:nowrap">-21,746°</div><div style="position:absolute;left:921px;top:613px;font-weight:bold;white-space:nowrap;letter-spacing:0.25px">Solar</div><div style="position:absolute;right:178px;top:613px;font-weight:bold;white-space:nowrap;letter-spacing:0.25px">W/m²</div><div style="position:absolute;left:921px;top:629px;font-weight:normal;white-space:nowrap">Elevation</div><div style="position:absolute;right:178px;top:629px;font-weight:normal;white-space:nowrap">-21.746</div><div style="position:absolute;left:927px;top:645px;font-weight:normal;white-space:nowrap">14:15</div><div style="position:absolute;right:178px;top:645px;font-weight:normal;white-space:nowrap">649</div><div style="position:absolute;left:921px;top:661px;font-weight:normal;white-space:nowrap">5:45 h</div><div style="position:absolute;right:178px;top:661px;font-weight:normal;white-space:nowrap">206</div></div>
</body></html>
